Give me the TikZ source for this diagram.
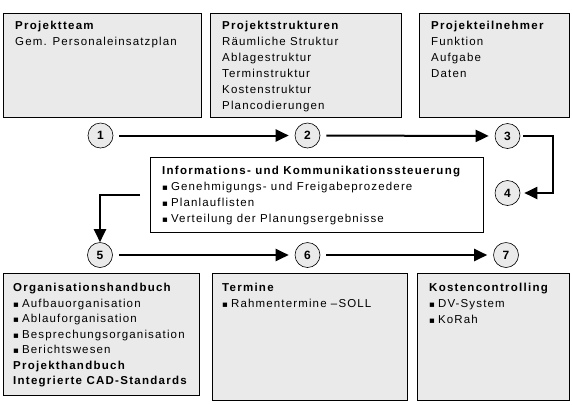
\documentclass[tikz,border=0pt]{standalone}
\usepackage{fontspec}
\setmainfont{Liberation Sans}[LetterSpace=10, BoldFeatures={LetterSpace=11}]
\newfontfamily\bulletfont{DejaVu Sans}[Scale=0.75]
\usetikzlibrary{arrows.meta,calc}
\definecolor{boxgray}{HTML}{EAEAEA}
\tikzset{
  panel/.style={draw=black, line width=0.8bp, fill=boxgray, inner sep=0pt},
  midpanel/.style={draw=black, line width=0.8bp, fill=white, inner sep=0pt},
  txt/.style={anchor=north west, inner sep=0pt, align=left, font=\fontsize{11.5bp}{16bp}\selectfont},
  num/.style={circle, draw=black, line width=0.6bp, fill=boxgray, minimum size=25bp, inner sep=0pt, font=\fontsize{12bp}{14bp}\selectfont\bfseries},
  flow/.style={line width=2bp, -{Triangle[length=13bp,width=12bp]}},
}
\newcommand{\bl}{{\bulletfont ▪}\hspace{3bp}}
\begin{document}
\begin{tikzpicture}[x=1bp,y=-1bp]
\useasboundingbox (0,0) rectangle (572,404);
% top boxes
\path[panel] (3,13) rectangle (201,117);
\path[panel] (210,13) rectangle (401,117);
\path[panel] (419,13) rectangle (569,117);
\node[txt] (t1) at (15,21) {\textbf{Projektteam}\\Gem. Personaleinsatzplan};
\node[txt] (t2) at (222,21) {\textbf{Projektstrukturen}\\Räumliche Struktur\\Ablagestruktur\\Terminstruktur\\Kostenstruktur\\Plancodierungen};
\node[txt] (t3) at (431,21) {\textbf{Projekteilnehmer}\\Funktion\\Aufgabe\\Daten};
% middle box
\node[midpanel, minimum width=333bp, minimum height=75bp, anchor=north west] (mid) at (150,157) {};
\node[txt] (tm) at (162,166) {\textbf{Informations- und Kommunikationssteuerung}\\\bl Genehmigungs- und Freigabeprozedere\\\bl Planlauflisten\\\bl Verteilung der Planungsergebnisse};
% bottom boxes
\path[panel] (3,273) rectangle (199,395);
\path[panel] (212,273) rectangle (407,400);
\path[panel] (417,273) rectangle (569,400);
\node[txt, font=\fontsize{11.5bp}{15.5bp}\selectfont] (t5) at (13,283) {\textbf{Organisationshandbuch}\\\bl Aufbauorganisation\\\bl Ablauforganisation\\\bl Besprechungsorganisation\\\bl Berichtswesen\\\textbf{Projekthandbuch}\\\textbf{Integrierte CAD-Standards}};
\node[txt] (t6) at (222,283) {\textbf{Termine}\\\bl Rahmentermine –SOLL};
\node[txt] (t7) at (429,283) {\textbf{Kostencontrolling}\\\bl DV-System\\\bl KoRah};
% circles
\node[num] (c1) at (100.5,135.5) {1};
\node[num] (c2) at (307.5,135.5) {2};
\node[num] (c3) at (507.5,136) {3};
\node[num] (c4) at (507.5,193) {4};
\node[num] (c5) at (100,255) {5};
\node[num] (c6) at (307.5,255) {6};
\node[num] (c7) at (506,255) {7};
% connectors
\draw[flow, shorten <=6bp, shorten >=6bp] (c1) -- (c2);
\draw[flow, shorten <=6bp, shorten >=6bp] (c2) -- (c3);
\draw[flow, shorten <=6bp, shorten >=6bp] (c5) -- (c6);
\draw[flow, shorten <=6bp, shorten >=6bp] (c6) -- (c7);
\coordinate (r3) at ($(c3.east)+(33,0)$);
\draw[flow, shorten <=3bp, shorten >=4bp] (c3.east) -- (r3) |- (c4.east);
\coordinate (m0) at ($(mid.west)+(-10,0)$);
\coordinate (m1) at ($(c5)+(0,-37)$);
\draw[flow] (m0) -| (m1) -- (c5.north);
\end{tikzpicture}
\end{document}
